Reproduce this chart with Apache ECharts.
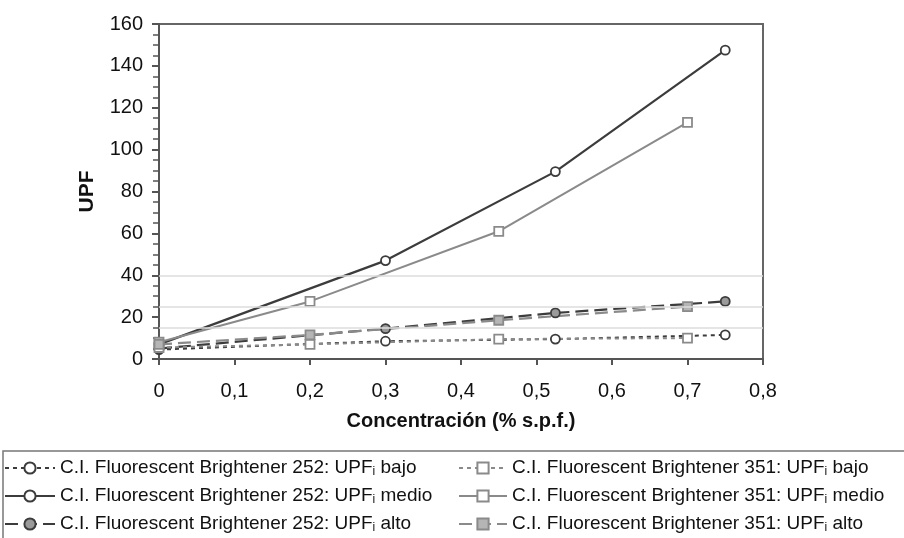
<!DOCTYPE html>
<html>
<head>
<meta charset="utf-8">
<script src="https://cdn.jsdelivr.net/npm/echarts@6/dist/echarts.min.js"></script>
<style>
html,body{margin:0;padding:0;background:#fff;}
#chart{width:904px;height:538px;}
</style>
</head>
<body>
<div id="chart"></div>
<script>
// ---- data ----
const conc252 = [0, 0.3, 0.525, 0.75];
const conc351 = [0, 0.2, 0.45, 0.7];
const upf252Bajo  = [4.5, 8.5, 9.5, 11.5];
const upf252Medio = [7, 47, 89.5, 147.5];
const upf252Alto  = [5, 14.5, 22, 27.5];
const upf351Bajo  = [5.5, 7, 9.5, 10];
const upf351Medio = [8, 27.5, 61, 113];
const upf351Alto  = [7, 11.5, 18.5, 25];
const upfThresholds = [15, 25, 40];
const xTicks = ['0', '0,1', '0,2', '0,3', '0,4', '0,5', '0,6', '0,7', '0,8'];
const names252 = ['C.I. Fluorescent Brightener 252: UPFi bajo', 'C.I. Fluorescent Brightener 252: UPFi medio', 'C.I. Fluorescent Brightener 252: UPFi alto'];
const names351 = ['C.I. Fluorescent Brightener 351: UPFi bajo', 'C.I. Fluorescent Brightener 351: UPFi medio', 'C.I. Fluorescent Brightener 351: UPFi alto'];

const pairs = (xs, ys) => xs.map((x, i) => [x, ys[i]]);
const FONT = '"Liberation Sans", Arial, sans-serif';
const dark = '#3c3c3c', grey = '#8a8a8a';

function mk(name, xs, ys, color, dash, symbol, fill, width) {
  return {
    name, type: 'line', data: pairs(xs, ys),
    symbol, symbolSize: 9,
    lineStyle: { color, width: width, type: dash },
    itemStyle: { color: fill, borderColor: color, borderWidth: 1.8 },
    emphasis: { disabled: true }, animation: false, z: 3
  };
}

const series = [
  mk(names252[0], conc252, upf252Bajo, dark, [4, 4], 'circle', '#ffffff', 2),
  mk(names252[1], conc252, upf252Medio, dark, 'solid', 'circle', '#ffffff', 2.2),
  mk(names252[2], conc252, upf252Alto, dark, [13, 6], 'circle', '#9a9a9a', 2.2),
  mk(names351[0], conc351, upf351Bajo, grey, [4, 4], 'rect', '#ffffff', 2),
  mk(names351[1], conc351, upf351Medio, grey, 'solid', 'rect', '#ffffff', 2),
  mk(names351[2], conc351, upf351Alto, grey, [13, 6], 'rect', '#b5b5b5', 2.2),
  {
    name: 'thresholds', type: 'line', data: [], silent: true, z: 1,
    markLine: {
      silent: true, symbol: 'none', label: { show: false },
      lineStyle: { color: '#dcdcdc', width: 1.5, type: 'solid' },
      data: upfThresholds.map(v => ({ yAxis: v }))
    }
  }
];

const legendText = {
  fontFamily: FONT, fontSize: 19, color: '#111', lineHeight: 20,
  rich: { s: { fontFamily: FONT, fontSize: 12, lineHeight: 12, verticalAlign: 'bottom', color: '#111' } }
};
const fmt = n => n.replace('UPFi', 'UPF{s|i}');

const chart = echarts.init(document.getElementById('chart'), null, { renderer: 'canvas' });
chart.setOption({
  backgroundColor: '#fff',
  animation: false,
  grid: { left: 159, top: 24, width: 604, height: 335, show: true, borderColor: '#666', borderWidth: 2 },
  xAxis: {
    type: 'value', min: 0, max: 0.8, interval: 0.1,
    name: 'Concentración (% s.p.f.)', nameLocation: 'middle', nameGap: 52,
    nameTextStyle: { fontFamily: FONT, fontSize: 20, fontWeight: 'bold', color: '#111' },
    axisLine: { show: true, lineStyle: { color: '#555', width: 2 } },
    axisTick: { show: true, length: 6, lineStyle: { color: '#555', width: 2 } },
    axisLabel: { margin: 22, fontFamily: FONT, fontSize: 20, color: '#111',
      formatter: v => xTicks[Math.round(v * 10)] },
    splitLine: { show: false }
  },
  yAxis: {
    type: 'value', min: 0, max: 160, interval: 20,
    name: 'UPF', nameLocation: 'middle', nameGap: 61, nameRotate: 90,
    nameTextStyle: { fontFamily: FONT, fontSize: 21, fontWeight: 'bold', color: '#111' },
    axisLine: { show: true, lineStyle: { color: '#555', width: 2 } },
    axisTick: { show: true, length: 7, lineStyle: { color: '#555', width: 2 } },
    minorTick: { show: true, splitNumber: 4, length: 6, lineStyle: { color: '#555', width: 1.5 } },
    axisLabel: { margin: 16, fontFamily: FONT, fontSize: 20, color: '#111' },
    splitLine: { show: false }
  },
  legend: [
    { data: names252, orient: 'vertical', left: 4, top: 458, padding: 0, itemGap: 8,
      itemWidth: 50, itemHeight: 14, textStyle: legendText, formatter: fmt, selectedMode: false },
    { data: names351, orient: 'vertical', left: 458, top: 458, padding: 0, itemGap: 8,
      itemWidth: 48, itemHeight: 14, textStyle: legendText, formatter: fmt, selectedMode: false }
  ],
  graphic: [{
    type: 'polyline', silent: true,
    shape: { points: [[3, 540], [3, 451], [906, 451]] },
    style: { stroke: '#777', lineWidth: 1.5, fill: null }
  }],
  series
});
</script>
</body>
</html>
